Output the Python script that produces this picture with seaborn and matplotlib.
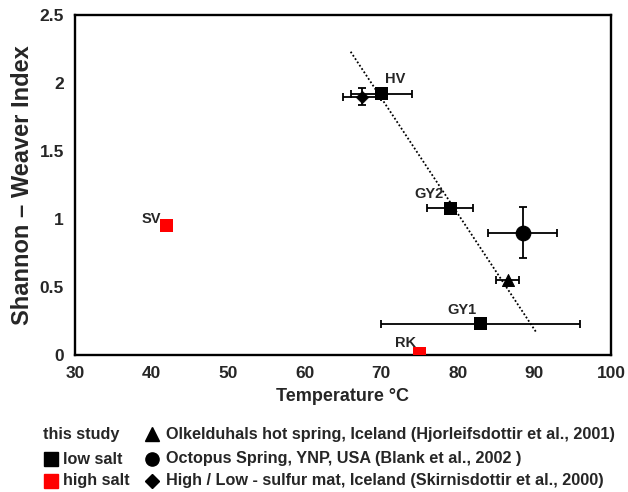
import numpy as np
import pandas as pd
import seaborn as sns
import matplotlib.pyplot as plt
from matplotlib.patches import Rectangle
from matplotlib.lines import Line2D

# sites from this study (squares)
site_names = ["HV", "GY2", "GY1", "SV", "RK"]
site_temp = [70.0, 79.0, 83.0, 42.0, 75.0]
site_index = [1.92, 1.08, 0.23, 0.95, 0.01]
site_terr = [4.0, 3.0, 13.0, 0.0, 0.0]
site_salt = ["low salt", "low salt", "low salt", "high salt", "high salt"]

# literature values
lit_names = ["Olkelduhals", "Octopus", "Sulfur mat"]
lit_temp = [86.5, 88.5, 67.5]
lit_index = [0.55, 0.90, 1.90]
lit_terr = [1.5, 4.5, 2.5]
lit_ierr = [0.0, 0.19, 0.06]
lit_marker = ["^", "o", "D"]

# dotted trend line ends
trend_temp = [66.0, 90.2]
trend_index = [2.23, 0.17]

sites = pd.DataFrame({"name": site_names, "temp": site_temp, "H": site_index,
                      "terr": site_terr, "salt": site_salt})
lit = pd.DataFrame({"name": lit_names, "temp": lit_temp, "H": lit_index,
                    "terr": lit_terr, "herr": lit_ierr, "marker": lit_marker})

sns.set_style("white")
plt.rcParams["font.family"] = ["Liberation Sans", "DejaVu Sans"]

W, H = 628, 492
fig = plt.figure(figsize=(6.28, 4.92), dpi=100)
ax = fig.add_axes([75 / W, 1 - 355 / H, 536 / W, 340 / H])

# trend line
sns.lineplot(x=trend_temp, y=trend_index, ax=ax, color="black",
             linestyle=(0, (1, 1.2)), linewidth=1.3, legend=False)

# error bars
for _, r in lit.iterrows():
    ax.errorbar(r.temp, r.H, xerr=r.terr, yerr=r.herr if r.herr > 0 else None,
                fmt="none", ecolor="black", elinewidth=1.3, capsize=3, capthick=1.3, zorder=2)
for _, r in sites[sites.terr > 0].iterrows():
    ax.errorbar(r.temp, r.H, xerr=r.terr, fmt="none", ecolor="black",
                elinewidth=1.3, capsize=3, capthick=1.3, zorder=2)

# literature markers
msize = {"^": 75, "o": 110, "D": 40}
for _, r in lit.iterrows():
    sns.scatterplot(x=[r.temp], y=[r.H], ax=ax, marker=r.marker, color="black",
                    s=msize[r.marker], edgecolor="black", zorder=3, legend=False)

# site markers
sns.scatterplot(data=sites, x="temp", y="H", hue="salt",
                palette={"low salt": "black", "high salt": "#ff0000"},
                marker="s", s=85, edgecolor="none", ax=ax, zorder=4, legend=False)

label_off = {"HV": (0.5, 0.06, "left"), "GY2": (-0.8, 0.05, "right"),
             "GY1": (-0.6, 0.05, "right"), "SV": (-0.7, 0.0, "right"),
             "RK": (-0.5, 0.03, "right")}
for _, r in sites.iterrows():
    dx, dy, ha = label_off[r["name"]]
    ax.text(r.temp + dx, r.H + dy, r["name"], ha=ha, va="bottom",
            fontsize=10.5, fontweight="bold")

ax.set_xlim(30, 100)
ax.set_ylim(0, 2.5)
ax.set_xticks(np.arange(30, 101, 10))
ax.set_yticks([0, 0.5, 1, 1.5, 2, 2.5])
ax.set_yticklabels(["0", "0.5", "1", "1.5", "2", "2.5"])
ax.tick_params(direction="in", length=4, width=1.3, labelsize=12.5)
ax.tick_params(axis="x", pad=8)
ax.tick_params(axis="y", pad=8)
for lab in ax.get_xticklabels() + ax.get_yticklabels():
    lab.set_fontweight("bold")
for sp in ax.spines.values():
    sp.set_linewidth(1.7)
    sp.set_color("black")
ax.set_xlabel("Temperature °C", fontsize=13, fontweight="bold", labelpad=5)
ax.set_ylabel("Shannon – Weaver Index", fontsize=17, fontweight="bold", labelpad=4)

# legend below the plot
lf = dict(fontsize=11.7, fontweight="bold", va="center")
rows = [434, 459, 481]
fig.text(43 / W, 1 - rows[0] / H, "this study", **lf)
fig.add_artist(Rectangle((44 / W, 1 - (rows[1] + 7) / H), 14 / W, 14 / H,
                         transform=fig.transFigure, color="black"))
fig.text(63 / W, 1 - rows[1] / H, "low salt", **lf)
fig.add_artist(Rectangle((44 / W, 1 - (rows[2] + 7) / H), 14 / W, 14 / H,
                         transform=fig.transFigure, color="#ff0000"))
fig.text(63 / W, 1 - rows[2] / H, "high salt", **lf)
lit_text = ["Olkelduhals hot spring, Iceland (Hjorleifsdottir et al., 2001)",
            "Octopus Spring, YNP, USA (Blank et al., 2002 )",
            "High / Low - sulfur mat, Iceland (Skirnisdottir et al., 2000)"]
leg_ms = {"^": 10, "o": 9.5, "D": 7.5}
for y, mk, t in zip(rows, lit_marker, lit_text):
    fig.add_artist(Line2D([152 / W], [1 - y / H], marker=mk, markersize=leg_ms[mk],
                          color="black", linestyle="none", transform=fig.transFigure))
    fig.text(166 / W, 1 - y / H, t, **lf)

fig.savefig("out.png", dpi=100)
